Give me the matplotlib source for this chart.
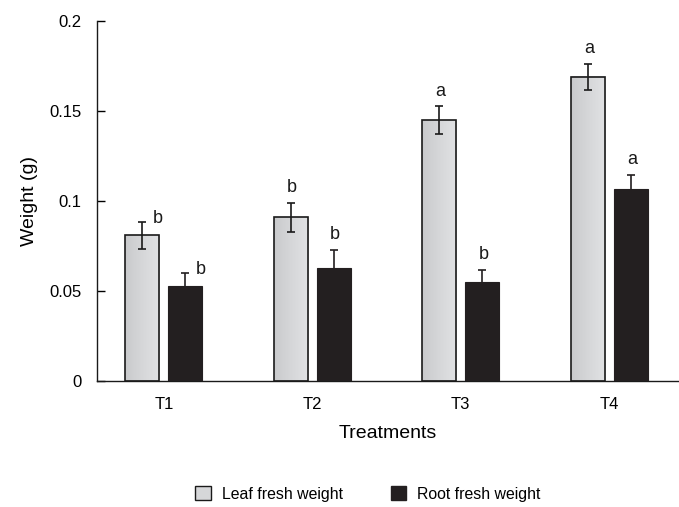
import numpy as np
import matplotlib
matplotlib.use("Agg")
import matplotlib.pyplot as plt
from matplotlib.patches import Patch
from matplotlib.colors import LinearSegmentedColormap

plt.rcParams['font.family'] = ['Liberation Sans', 'DejaVu Sans']

treatments = ["T1", "T2", "T3", "T4"]
leaf = [0.081, 0.091, 0.145, 0.169]
leaf_err = [0.0073, 0.008, 0.0077, 0.0073]
root = [0.053, 0.063, 0.055, 0.107]
root_err = [0.007, 0.010, 0.0067, 0.0077]
leaf_letters = ["b", "b", "a", "a"]
root_letters = ["b", "b", "b", "a"]
yticks = [0, 0.05, 0.1, 0.15, 0.2]
ytick_labels = ["0", "0.05", "0.1", "0.15", "0.2"]

fig = plt.figure(figsize=(6.79, 5.07), dpi=100)
ax = fig.add_axes([0.143, 0.248, 0.857, 0.71])

x = np.arange(len(treatments))
w = 0.23
off = 0.145
root_color = "#231f20"

leaf_bars = ax.bar(x - off, leaf, w, facecolor="none", edgecolor="#1a1a1a",
                   linewidth=1.2, zorder=3)
root_bars = ax.bar(x + off, root, w, color=root_color, edgecolor=root_color,
                   linewidth=0.8, zorder=3)

cmap = LinearSegmentedColormap.from_list("g", ["#c9cacc", "#d6d7d9", "#e1e2e4"])
grad = np.linspace(0, 1, 64).reshape(1, -1)
for p in leaf_bars:
    x0, y0 = p.get_x(), p.get_y()
    ax.imshow(grad, cmap=cmap, extent=[x0, x0 + p.get_width(), y0, y0 + p.get_height()],
              aspect="auto", zorder=2, interpolation="bilinear")

ax.errorbar(x - off, leaf, yerr=leaf_err, fmt="none", ecolor="#1a1a1a",
            elinewidth=1.2, capsize=3, capthick=1.2, zorder=4)
ax.errorbar(x + off, root, yerr=root_err, fmt="none", ecolor=root_color,
            elinewidth=1.2, capsize=3, capthick=1.2, zorder=4)

for i in range(len(treatments)):
    if i == 0:
        dx, dy = 11, 3
    else:
        dx, dy = 1, 11
    ax.annotate(leaf_letters[i], (x[i] - off, leaf[i] + leaf_err[i]),
                xytext=(dx, dy), textcoords="offset points",
                ha="center", va="center", fontsize=13, color="#1a1a1a")
    ax.annotate(root_letters[i], (x[i] + off, root[i] + root_err[i]),
                xytext=(dx, dy), textcoords="offset points",
                ha="center", va="center", fontsize=13, color="#1a1a1a")

ax.set_xlim(-0.45, 3.47)
ax.set_ylim(0, 0.2)
ax.set_xticks(x)
ax.set_xticklabels(treatments, fontsize=12)
ax.set_yticks(yticks)
ax.set_yticklabels(ytick_labels, fontsize=12)
ax.tick_params(axis="x", length=0, pad=11)
ax.tick_params(axis="y", direction="in", length=6, width=1, pad=11)
for s in ["top", "right"]:
    ax.spines[s].set_visible(False)
for s in ["left", "bottom"]:
    ax.spines[s].set_linewidth(1.0)
    ax.spines[s].set_color("#1a1a1a")

ax.set_xlabel("Treatments", fontsize=14, labelpad=10)
ax.set_ylabel("Weight (g)", fontsize=14, labelpad=8)

handles = [Patch(facecolor="#d6d7d9", edgecolor="#1a1a1a", linewidth=1.0),
           Patch(facecolor=root_color, edgecolor=root_color)]
fig.legend(handles, ["Leaf fresh weight", "Root fresh weight"], loc="center",
           bbox_to_anchor=(0.542, 0.026), ncol=2, frameon=False, fontsize=11.4,
           handlelength=1.0, handleheight=1.0, handletextpad=0.7, columnspacing=3.0)

fig.savefig("out.png", dpi=100)
